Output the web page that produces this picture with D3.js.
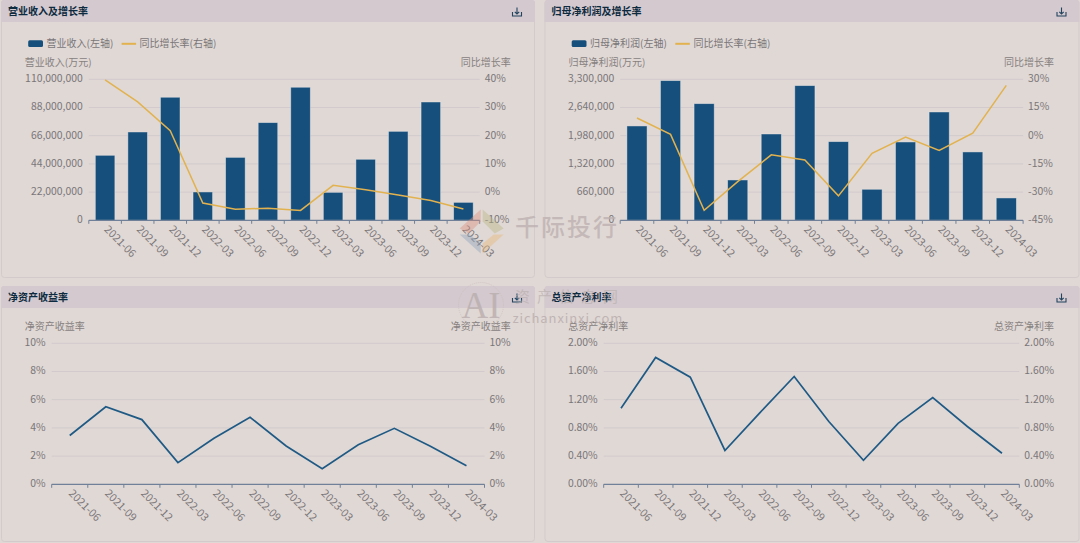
<!DOCTYPE html>
<html><head><meta charset="utf-8">
<script src="https://cdn.jsdelivr.net/npm/d3@7"></script>
<style>
html,body{margin:0;padding:0;background:#e0d8d5;overflow:hidden}
svg{display:block}
text{font-family:"Noto Sans CJK SC","Noto Sans",sans-serif}
</style></head><body><svg id="c" width="1080" height="543"></svg>
<script>
const periods=["2021-06","2021-09","2021-12","2022-03","2022-06","2022-09","2022-12","2023-03","2023-06","2023-09","2023-12","2024-03"];
const revenue=[50700000,68900000,96000000,22100000,49100000,76200000,103800000,21800000,47600000,69400000,92300000,14000000];
const revenueGrowth=[39.8,32,21.8,-3.9,-6.1,-5.7,-6.5,2.4,0.8,-1,-3,-6];
const profit=[2208000,3269000,2730000,944000,2020000,3152000,1841000,726000,1833000,2535000,1600000,523000];
const profitGrowth=[9.4,0.7,-39.7,-24.4,-10.2,-12.9,-32,-9.4,-0.7,-7.8,1.3,26.8];
const roe=[3.46,5.5,4.59,1.54,3.26,4.75,2.72,1.11,2.81,3.97,2.7,1.32];
const roa=[1.08,1.80,1.52,0.48,1.01,1.53,0.89,0.34,0.865,1.23,0.82,0.44];
const revenueTicks=[0,22000000,44000000,66000000,88000000,110000000];
const revenueGrowthTicks=[-10,0,10,20,30,40];
const profitTicks=[0,660000,1320000,1980000,2640000,3300000];
const profitGrowthTicks=[-45,-30,-15,0,15,30];
const roeTicks=[0,2,4,6,8,10];
const roaTicks=[0,0.4,0.8,1.2,1.6,2.0];

const BLUE="#164f7c",GOLD="#e2b24f",LINE="#1f5a85",TXT="#7a7678",NAME="#87817f",GRID="#d2cacd",AXIS="#6f8098",BORDER="#d3cbcb",HEAD="#d3c9ce",TITLE="#0d2a3f";
const svg=d3.select("#c");
const fmt=d3.format(",");
const FS=10.4;
const FF='"Noto Sans CJK SC","Noto Sans",sans-serif';

function panel(p){
  const g=svg.append("g");
  g.append("rect").attr("x",p.x+.5).attr("y",p.y+.5).attr("width",p.w).attr("height",p.h).attr("rx",3)
    .attr("fill","#e0d8d5").attr("stroke",BORDER);
  g.append("path").attr("d",`M${p.x} ${p.y+22}V${p.y+3}q0-3 3-3H${p.x+p.w-2}q3 0 3 3V${p.y+22}Z`).attr("fill",HEAD);
  g.append("text").attr("x",p.x+7).attr("y",p.y+11.7).attr("dy","0.35em").attr("font-size",10).attr("font-weight",700)
    .attr("fill",TITLE).text(p.title);
  const ic=g.append("g").attr("transform",`translate(${p.x+p.w-17},${p.y+12})`).attr("fill","none").attr("stroke","#23445f").attr("stroke-width",1.1);
  ic.append("path").attr("d","M-4.5 0V4H4.5V0");
  ic.append("path").attr("d","M0 -4.5V2M-2.2 -0.2L0 2L2.2 -0.2");
  return g;
}
function chart(p){
  const g=panel(p);
  const x=d3.scaleBand().domain(periods).range([p.x0,p.x1]);
  const yL=d3.scaleLinear().domain(d3.extent(p.leftTicks)).range([p.yb,p.yt]);
  const yR=d3.scaleLinear().domain(d3.extent(p.rightTicks)).range([p.yb,p.yt]);
  // grid
  g.append("g").selectAll("line").data(p.leftTicks.slice(1)).join("line")
    .attr("x1",p.x0).attr("x2",p.x1).attr("y1",d=>yL(d)).attr("y2",d=>yL(d)).attr("stroke",GRID);
  // left labels
  const ax=d3.axisLeft(yL).tickValues(p.leftTicks).tickSize(0).tickPadding(6).tickFormat(p.leftFmt);
  const a=g.append("g").attr("transform",`translate(${p.x0},-1)`).call(ax);
  a.select(".domain").remove();
  a.selectAll("text").attr("font-size",FS).attr("fill",TXT).style("font-family",FF);
  const ar=d3.axisRight(yR).tickValues(p.rightTicks).tickSize(0).tickPadding(5).tickFormat(p.rightFmt);
  const b=g.append("g").attr("transform",`translate(${p.x1},-1)`).call(ar);
  b.select(".domain").remove();
  b.selectAll("text").attr("font-size",FS).attr("fill",TXT).style("font-family",FF);
  // bars
  if(p.bars){
    g.append("g").selectAll("rect").data(p.bars).join("rect")
      .attr("x",(d,i)=>x(periods[i])+x.step()*.2).attr("width",x.step()*.6)
      .attr("y",d=>yL(d)).attr("height",d=>yL(0)-yL(d))
      .attr("fill",BLUE).attr("stroke","#eee9e8").attr("stroke-opacity",.55).attr("stroke-width",.8);
  }
  // x axis
  const bx=d3.axisBottom(x).tickSize(0).tickPadding(0);
  const c=g.append("g").attr("transform",`translate(0,${p.yb})`).call(bx);
  c.select(".domain").remove();
  c.selectAll("text").attr("font-size",10.8).attr("fill",TXT).style("font-family",FF)
    .attr("text-anchor","start").attr("y",0).attr("dy","0.35em")
    .attr("transform","translate(1,7) rotate(45)");
  g.append("line").attr("x1",p.x0).attr("x2",p.x1).attr("y1",p.yb).attr("y2",p.yb).attr("stroke",AXIS).attr("stroke-width",1.2);
  const edges=periods.map(d=>x(d)).concat([p.x1]);
  g.append("g").selectAll("line").data(edges).join("line")
    .attr("x1",d=>d).attr("x2",d=>d).attr("y1",p.yb).attr("y2",p.yb+3.5).attr("stroke",AXIS);
  // line
  const sy=p.bars?yR:yL;
  const ln=d3.line().x((d,i)=>x(periods[i])+x.bandwidth()/2).y(d=>sy(d));
  g.append("path").datum(p.line).attr("d",ln).attr("fill","none").attr("stroke",p.bars?GOLD:LINE).attr("stroke-width",p.bars?1.5:1.7);
  // names
  g.append("text").attr("x",p.nameL).attr("y",p.nameY).attr("dy","0.35em").attr("font-size",10).attr("fill",NAME).text(p.leftName);
  g.append("text").attr("x",p.nameR).attr("y",p.nameY).attr("dy","0.35em").attr("text-anchor","end").attr("font-size",10).attr("fill",NAME).text(p.rightName);
  // legend
  if(p.legend){
    const l=p.legend,ly=43.5;
    g.append("rect").attr("x",l[0]).attr("y",ly-3.2).attr("width",14.8).attr("height",6.6).attr("rx",1.5).attr("fill",BLUE);
    g.append("text").attr("x",l[1]).attr("y",ly-.5).attr("dy","0.35em").attr("font-size",10).attr("fill",TXT).text(p.leg1);
    g.append("line").attr("x1",l[2]).attr("x2",l[2]+14.5).attr("y1",ly+.3).attr("y2",ly+.3).attr("stroke",GOLD).attr("stroke-width",2);
    g.append("text").attr("x",l[3]).attr("y",ly-.5).attr("dy","0.35em").attr("font-size",10).attr("fill",TXT).text(p.leg2);
  }
}
const pct=d=>d+"%", pct2=d=>d.toFixed(2)+"%";
chart({x:1,y:0,w:533,h:277,title:"营业收入及增长率",x0:88.8,x1:479.7,yt:79.3,yb:220.3,leftTicks:revenueTicks,rightTicks:revenueGrowthTicks,leftFmt:fmt,rightFmt:pct,bars:revenue,line:revenueGrowth,leftName:"营业收入(万元)",rightName:"同比增长率",nameL:24.8,nameR:510.7,nameY:62.2,legend:[28.2,46.5,121.6,139.5],leg1:"营业收入(左轴)",leg2:"同比增长率(右轴)"});
chart({x:544.5,y:0,w:534,h:277,title:"归母净利润及增长率",x0:620.2,x1:1023.1,yt:79.3,yb:220.3,leftTicks:profitTicks,rightTicks:profitGrowthTicks,leftFmt:fmt,rightFmt:pct,bars:profit,line:profitGrowth,leftName:"归母净利润(万元)",rightName:"同比增长率",nameL:568.6,nameR:1054,nameY:62.2,legend:[571.7,590,675.3,693.6],leg1:"归母净利润(左轴)",leg2:"同比增长率(右轴)"});
chart({x:1,y:286,w:533,h:255,title:"净资产收益率",x0:51.7,x1:484.5,yt:343.3,yb:484.3,leftTicks:roeTicks,rightTicks:roeTicks,leftFmt:pct,rightFmt:pct,line:roe,leftName:"净资产收益率",rightName:"净资产收益率",nameL:24.8,nameR:510.7,nameY:326.8});
chart({x:544.5,y:286,w:534,h:255,title:"总资产净利率",x0:603.7,x1:1019.3,yt:343.3,yb:484.3,leftTicks:roaTicks,rightTicks:roaTicks,leftFmt:pct2,rightFmt:pct2,line:roa,leftName:"总资产净利率",rightName:"总资产净利率",nameL:568.3,nameR:1054,nameY:326.8});

// watermarks
const wm=svg.append("g").attr("pointer-events","none");
const lg=wm.append("g").attr("transform","translate(481.7,231.5)").attr("opacity",.42);
[["M-1 -22L-22 -3L-13 2L-1 -10Z","#d98f7f"],["M1 -22L22 -3L13 2L1 -10Z","#b8b684"],["M-22 3L-1 22L-1 12L-12 3Z","#8ba3bd"],["M22 3L1 22L1 12L12 3Z","#e8b878"]]
 .forEach(s=>lg.append("path").attr("d",s[0]).attr("fill",s[1]));
wm.append("text").attr("x",515).attr("y",228).attr("dy","0.35em").attr("font-size",24).attr("letter-spacing",2).attr("font-weight",500).attr("fill","#bdb1b0").attr("fill-opacity",.8).text("千际投行");
wm.append("circle").attr("cx",481).attr("cy",305).attr("r",22.5).attr("fill","none").attr("stroke","#cbbfbe").attr("stroke-opacity",.7).attr("stroke-dasharray","1 1");
wm.append("text").attr("x",481).attr("y",305).attr("dy","0.36em").attr("text-anchor","middle").attr("font-size",37).style("font-family",'"Liberation Serif",serif').attr("fill","#b9adad").attr("fill-opacity",.8).text("AI");
wm.append("text").attr("x",515).attr("y",297).attr("dy","0.35em").attr("font-size",15).attr("letter-spacing",7).attr("fill","#b9adad").attr("fill-opacity",.65).text("资产信息网");
wm.append("text").attr("x",512.5).attr("y",318).attr("dy","0.35em").attr("font-size",13).attr("letter-spacing",.9).attr("fill","#b9adad").attr("fill-opacity",.85).text("zichanxinxi.com");
</script></body></html>
